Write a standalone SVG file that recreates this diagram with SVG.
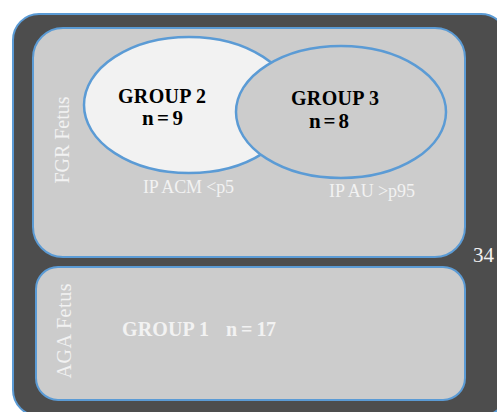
<svg xmlns="http://www.w3.org/2000/svg" width="497" height="412" viewBox="0 0 497 412">
<style>
.frame{stroke:#5b9bd5;stroke-width:2}
.ell{stroke:#5b9bd5;stroke-width:2.5}
.t{font-family:"Liberation Serif","Times New Roman",serif}
.b{font-weight:bold;font-size:20px;fill:#000}
.n{font-size:21px}
.w{fill:#f2f2f2}
</style>
<rect width="497" height="412" fill="#ffffff"/>
<g id="outer">
<rect class="frame" x="13" y="14" width="494" height="402" rx="26" fill="#4d4d4d"/>
<text class="t w" x="473" y="262" font-size="21" textLength="21">34</text>
</g>
<g id="fgr">
<rect class="frame" x="33" y="28" width="432" height="229" rx="30" fill="#cccccc"/>
<text class="t w" transform="translate(69,140) rotate(-90)" text-anchor="middle" font-size="20" textLength="87">FGR Fetus</text>
</g>
<g id="group2">
<ellipse class="ell" cx="189" cy="105" rx="105" ry="68" fill="#f2f2f2"/>
<text class="t b" x="118" y="103" textLength="88">GROUP 2</text>
<text class="t b n" x="142" y="125" textLength="41">n = 9</text>
<text class="t w" x="143" y="193" font-size="18" textLength="91">IP ACM &lt;p5</text>
</g>
<g id="group3">
<ellipse class="ell" cx="341" cy="112" rx="105" ry="66" fill="#cccccc"/>
<text class="t b" x="291" y="105" textLength="88">GROUP 3</text>
<text class="t b n" x="309" y="128" textLength="40">n = 8</text>
<text class="t w" x="329" y="197" font-size="18" textLength="86">IP AU &gt;p95</text>
</g>
<g id="aga">
<rect class="frame" x="36" y="267" width="429" height="133" rx="22" fill="#cccccc"/>
<text class="t w" transform="translate(71,331) rotate(-90)" text-anchor="middle" font-size="20" textLength="95">AGA Fetus</text>
<text class="t w" x="122" y="336" font-size="20" font-weight="bold" textLength="87">GROUP 1</text>
<text class="t w" x="226" y="336" font-size="20" font-weight="bold" textLength="50">n = 17</text>
</g>
</svg>
